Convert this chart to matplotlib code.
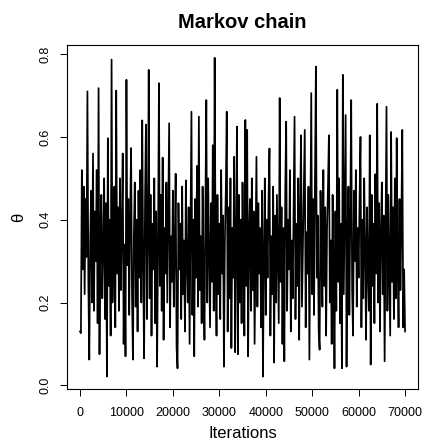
import matplotlib
matplotlib.use("Agg")
import matplotlib.pyplot as plt
import numpy as np

# thinned trace, one value every 200 iterations
step = 200
theta = [
    0.13, 0.126, 0.52, 0.28, 0.48, 0.22, 0.45, 0.31, 0.71, 0.25,
    0.062, 0.35, 0.47, 0.2, 0.56, 0.18, 0.42, 0.3, 0.52, 0.15,
    0.718, 0.075, 0.38, 0.46, 0.21, 0.33, 0.5, 0.16, 0.44, 0.021,
    0.597, 0.24, 0.4, 0.12, 0.787, 0.2, 0.36, 0.48, 0.14, 0.712,
    0.27, 0.43, 0.18, 0.5, 0.23, 0.38, 0.56, 0.1, 0.34, 0.07,
    0.738, 0.29, 0.45, 0.17, 0.41, 0.573, 0.22, 0.062, 0.36, 0.49,
    0.19, 0.4, 0.13, 0.47, 0.26, 0.52, 0.2, 0.64, 0.3, 0.065,
    0.44, 0.63, 0.16, 0.35, 0.762, 0.21, 0.46, 0.12, 0.39, 0.28,
    0.5, 0.15, 0.42, 0.045, 0.33, 0.73, 0.24, 0.46, 0.18, 0.55,
    0.11, 0.38, 0.27, 0.49, 0.2, 0.41, 0.633, 0.14, 0.36, 0.25,
    0.47, 0.19, 0.34, 0.511, 0.09, 0.041, 0.44, 0.28, 0.39, 0.16,
    0.48, 0.22, 0.35, 0.13, 0.495, 0.3, 0.2, 0.43, 0.1, 0.37,
    0.661, 0.17, 0.4, 0.07, 0.45, 0.26, 0.53, 0.19, 0.649, 0.23,
    0.36, 0.15, 0.48, 0.28, 0.11, 0.42, 0.689, 0.2, 0.5, 0.32,
    0.14, 0.44, 0.25, 0.58, 0.18, 0.791, 0.3, 0.12, 0.46, 0.22,
    0.39, 0.16, 0.52, 0.27, 0.41, 0.045, 0.35, 0.47, 0.661, 0.13,
    0.43, 0.21, 0.5, 0.09, 0.38, 0.26, 0.552, 0.08, 0.33, 0.625,
    0.075, 0.46, 0.2, 0.4, 0.15, 0.49, 0.29, 0.12, 0.641, 0.24,
    0.617, 0.07, 0.37, 0.45, 0.18, 0.5, 0.23, 0.42, 0.1, 0.34,
    0.552, 0.19, 0.44, 0.27, 0.38, 0.14, 0.47, 0.021, 0.31, 0.5,
    0.17, 0.4, 0.26, 0.45, 0.572, 0.12, 0.36, 0.22, 0.48, 0.055,
    0.41, 0.2, 0.46, 0.3, 0.15, 0.694, 0.25, 0.43, 0.1, 0.38,
    0.058, 0.47, 0.637, 0.18, 0.4, 0.28, 0.52, 0.13, 0.35, 0.21,
    0.44, 0.649, 0.16, 0.39, 0.24, 0.5, 0.11, 0.42, 0.604, 0.19,
    0.33, 0.46, 0.617, 0.14, 0.37, 0.27, 0.48, 0.062, 0.4, 0.706,
    0.22, 0.45, 0.17, 0.5, 0.77, 0.26, 0.41, 0.13, 0.086, 0.47,
    0.3, 0.19, 0.52, 0.24, 0.43, 0.12, 0.38, 0.48, 0.604, 0.2,
    0.35, 0.1, 0.46, 0.28, 0.041, 0.42, 0.18, 0.714, 0.25, 0.5,
    0.15, 0.39, 0.041, 0.75, 0.22, 0.44, 0.653, 0.045, 0.36, 0.48,
    0.17, 0.41, 0.689, 0.23, 0.12, 0.47, 0.3, 0.52, 0.19, 0.38,
    0.26, 0.45, 0.6, 0.14, 0.4, 0.21, 0.5, 0.33, 0.11, 0.43,
    0.28, 0.18, 0.604, 0.05, 0.46, 0.24, 0.39, 0.15, 0.51, 0.27,
    0.68, 0.2, 0.44, 0.13, 0.37, 0.49, 0.22, 0.41, 0.058, 0.35,
    0.673, 0.18, 0.46, 0.29, 0.12, 0.612, 0.25, 0.43, 0.16, 0.5,
    0.21, 0.597, 0.3, 0.14, 0.45, 0.23, 0.39, 0.617, 0.14, 0.28,
    0.13,
]
iterations = np.arange(len(theta)) * step

xticks = [0, 10000, 20000, 30000, 40000, 50000, 60000, 70000]
yticks = [0.0, 0.2, 0.4, 0.6, 0.8]

plt.rcParams["font.family"] = ["Liberation Sans", "DejaVu Sans"]

fig = plt.figure(figsize=(4.24, 4.47), dpi=100)
ax = fig.add_axes([0.158, 0.129, 0.828, 0.770])

ax.plot(iterations, theta, color="black", linewidth=1.25)

# R style 4% padding
xr = iterations[-1] - iterations[0]
ax.set_xlim(iterations[0] - 0.04 * xr, iterations[-1] + 0.04 * xr)
ymin, ymax = min(theta), max(theta)
yr = ymax - ymin
ax.set_ylim(ymin - 0.04 * yr, ymax + 0.04 * yr)

ax.set_xticks(xticks)
ax.set_xticklabels([str(t) for t in xticks])
ax.set_yticks(yticks)
ax.set_yticklabels(["%.1f" % t for t in yticks], rotation=90, va="center")
ax.tick_params(direction="out", length=4.8, width=0.7, labelsize=9)
ax.tick_params(axis="x", pad=8)
ax.tick_params(axis="y", pad=6)
for s in ax.spines.values():
    s.set_linewidth(0.8)

ax.set_title("Markov chain", fontsize=14.5, fontweight="bold", pad=12)
ax.set_xlabel("Iterations", fontsize=12, labelpad=5)
ax.set_ylabel("θ", fontsize=12, labelpad=10)

fig.savefig("out.png", dpi=100)
